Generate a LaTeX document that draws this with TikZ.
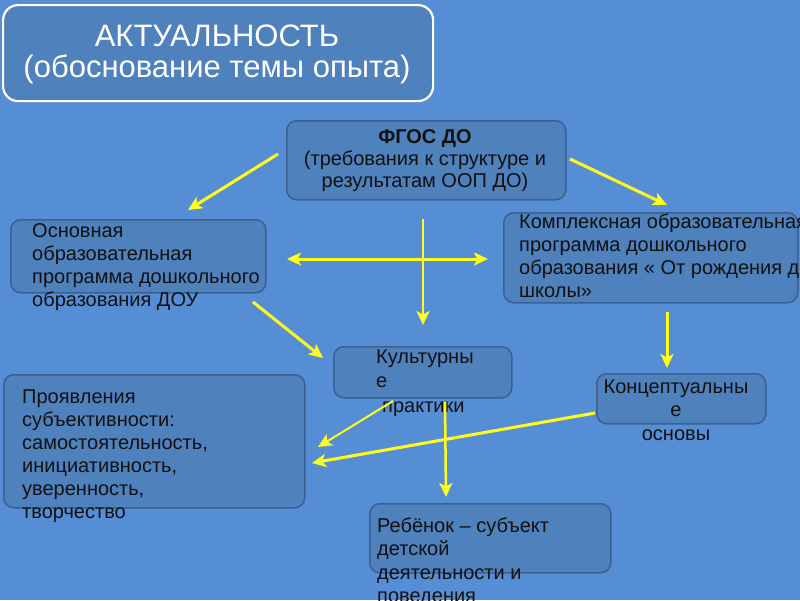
\documentclass[tikz,border=0pt]{standalone}
\usepackage{fontspec}
\setmainfont{Liberation Sans}
\usetikzlibrary{arrows.meta}
\definecolor{bg}{HTML}{558ED5}
\definecolor{boxfill}{HTML}{4F81BD}
\definecolor{boxline}{HTML}{3B6194}
\definecolor{ink}{HTML}{111111}
\definecolor{arrowyellow}{HTML}{FFFF1E}
\tikzset{
  bx/.style={draw=boxline, fill=boxfill, line width=1.5pt, rounded corners=10pt, anchor=north west, inner sep=0pt},
  titlebox/.style={draw=white, fill=boxfill, line width=2.2pt, rounded corners=15pt, anchor=north west, inner sep=0pt},
  txt/.style={inner sep=0pt, anchor=base west, text=ink, font=\fontsize{20}{23.3}\selectfont},
  ctxt/.style={txt, anchor=base},
  arr/.style={draw=arrowyellow, line width=3pt, -{Stealth[length=14pt,width=13pt,inset=3.5pt]}},
  thinarr/.style={arr, line width=2pt},
  dblarr/.style={draw=arrowyellow, line width=3pt, {Stealth[length=14pt,width=13pt,inset=3.5pt]}-{Stealth[length=14pt,width=13pt,inset=3.5pt]}}
}
\begin{document}
\begin{tikzpicture}[x=1pt,y=-1pt]
\useasboundingbox (0,0) rectangle (800,600);
\clip (0,0) rectangle (800,600);
\fill[bg] (0,0) rectangle (800,600);

% boxes
\node[titlebox, minimum width=430pt, minimum height=96pt] (title) at (2,4) {};
\node[bx, minimum width=279pt, minimum height=79pt] (fgos) at (286,120) {};
\node[bx, minimum width=255pt, minimum height=73pt] (osn) at (10,219) {};
\node[bx, minimum width=294pt, minimum height=90pt] (kompl) at (503,212) {};
\node[bx, minimum width=178pt, minimum height=51pt] (kult) at (333,346) {};
\node[bx, minimum width=169pt, minimum height=50pt] (konc) at (596,373) {};
\node[bx, minimum width=301pt, minimum height=133pt] (proj) at (3,374) {};
\node[bx, minimum width=241pt, minimum height=69pt] (reb) at (369,503) {};

% texts
\node[ctxt, text=white, font=\fontsize{31}{31}\selectfont] (titleT) at (217,46)
  {\parbox[t]{420pt}{\centering АКТУАЛЬНОСТЬ\\(обоснование темы опыта)}};
\node[ctxt, font=\fontsize{20}{22}\selectfont] (fgosT) at (425,143)
  {\parbox[t]{270pt}{\centering\textbf{ФГОС ДО}\\(требования к структуре и\\результатам ООП ДО)}};
\node[txt] (osnT) at (32,237)
  {\parbox[t]{300pt}{Основная\\образовательная\\программа дошкольного\\образования ДОУ}};
\node[txt] (komplT) at (519,228)
  {\parbox[t]{360pt}{Комплексная образовательная\\программа дошкольного\\образования « От рождения до\\школы»}};
\node[txt, font=\fontsize{20}{24.5}\selectfont] (kultT) at (376,363)
  {\parbox[t]{200pt}{Культурны\\е\\\hspace*{6pt}практики}};
\node[ctxt, font=\fontsize{20}{23.5}\selectfont] (koncT) at (676,393)
  {\parbox[t]{200pt}{\centering Концептуальны\\е\\основы}};
\node[txt, font=\fontsize{20}{23}\selectfont] (projT) at (22,403)
  {\parbox[t]{300pt}{Проявления\\субъективности:\\самостоятельность,\\инициативность,\\уверенность,\\творчество}};
\node[txt, font=\fontsize{20}{23.5}\selectfont] (rebT) at (377,532)
  {\parbox[t]{300pt}{Ребёнок – субъект\\детской\\деятельности и\\поведения}};

% arrow end points
\coordinate (a1s) at (278,154); \coordinate (a1e) at (188,210);
\coordinate (a2s) at (570,159); \coordinate (a2e) at (667,205);
\coordinate (a3s) at (287,259); \coordinate (a3e) at (488,259);
\coordinate (a4s) at (423,219); \coordinate (a4e) at (423,325);
\coordinate (a5s) at (253,302); \coordinate (a5e) at (323,358);
\coordinate (a6s) at (667,312); \coordinate (a6e) at (667,368);
\coordinate (a7s) at (393,401); \coordinate (a7e) at (318,447);
\coordinate (a8s) at (595,413); \coordinate (a8e) at (312,463);
\coordinate (a9s) at (445,402); \coordinate (a9e) at (446,497);

\draw[arr] (a1s) -- (a1e);
\draw[arr] (a2s) -- (a2e);
\draw[dblarr] (a3s) -- (a3e);
\draw[arr, line width=2.5pt] (a4s) -- (a4e);
\draw[arr] (a5s) -- (a5e);
\draw[arr] (a6s) -- (a6e);
\draw[thinarr] (a7s) -- (a7e);
\draw[arr] (a8s) -- (a8e);
\draw[arr, line width=2.5pt] (a9s) -- (a9e);
\end{tikzpicture}
\end{document}
